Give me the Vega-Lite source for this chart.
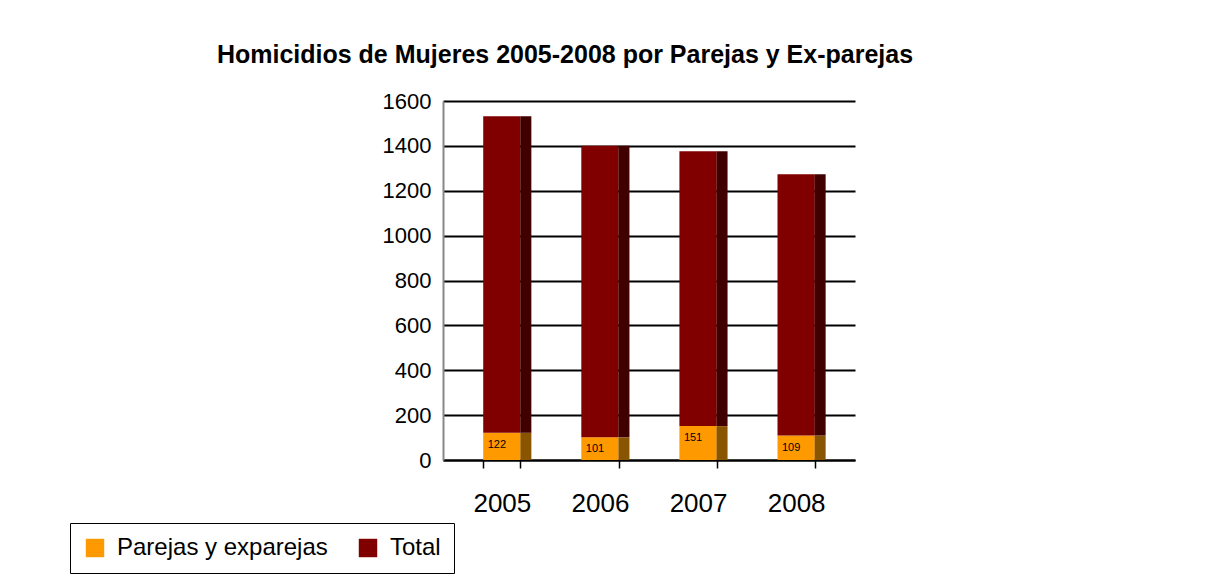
{
  "$schema": "https://vega.github.io/schema/vega-lite/v6.json",
  "width": 412,
  "height": 359,
  "autosize": {"type": "none"},
  "padding": {"left": 443, "top": 101, "right": 351, "bottom": 115},
  "background": "white",
  "title": {
    "text": "Homicidios de Mujeres 2005-2008 por Parejas y Ex-parejas",
    "font": "Liberation Sans",
    "fontSize": 25,
    "fontWeight": "bold",
    "color": "black",
    "anchor": "middle",
    "frame": "group",
    "dx": -84,
    "offset": 22
  },
  "data": {
    "values": [
      {"year": "2005", "serie": "Parejas y exparejas", "orden": 1, "value": 122},
      {"year": "2005", "serie": "Total", "orden": 2, "value": 1410},
      {"year": "2006", "serie": "Parejas y exparejas", "orden": 1, "value": 101},
      {"year": "2006", "serie": "Total", "orden": 2, "value": 1300},
      {"year": "2007", "serie": "Parejas y exparejas", "orden": 1, "value": 151},
      {"year": "2007", "serie": "Total", "orden": 2, "value": 1225},
      {"year": "2008", "serie": "Parejas y exparejas", "orden": 1, "value": 109},
      {"year": "2008", "serie": "Total", "orden": 2, "value": 1165}
    ]
  },
  "layer": [
    {
      "mark": {"type": "bar"},
      "encoding": {
        "x": {
          "field": "year",
          "type": "ordinal",
          "title": null,
          "scale": {"paddingInner": 0.62, "paddingOuter": 0.41},
          "axis": {
            "labelFont": "Liberation Sans",
            "labelFontSize": 26,
            "labelColor": "black",
            "labelAngle": 0,
            "labelPadding": 22,
            "domainColor": "black",
            "domainWidth": 2,
            "tickColor": "black",
            "tickWidth": 1.5,
            "tickSize": 8,
            "tickBand": "extent"
          }
        },
        "y": {
          "field": "value",
          "type": "quantitative",
          "title": null,
          "scale": {"domain": [0, 1600], "nice": false},
          "axis": {
            "values": [0, 200, 400, 600, 800, 1000, 1200, 1400, 1600],
            "format": "d",
            "labelFont": "Liberation Sans",
            "labelFontSize": 22,
            "labelColor": "black",
            "labelPadding": 12,
            "ticks": false,
            "domainColor": "#888888",
            "domainWidth": 2,
            "grid": true,
            "gridColor": "black",
            "gridWidth": 1.8
          }
        },
        "color": {
          "field": "serie",
          "type": "nominal",
          "scale": {"domain": ["Parejas y exparejas", "Total"], "range": ["#ff9900", "#800000"]},
          "legend": {
            "title": null,
            "orient": "none",
            "legendX": -373,
            "legendY": 422,
            "direction": "horizontal",
            "strokeColor": "black",
            "fillColor": "white",
            "padding": 13,
            "labelFont": "Liberation Sans",
            "labelFontSize": 24,
            "labelColor": "black",
            "labelLimit": 0,
            "symbolType": "square",
            "symbolSize": 340,
            "symbolStrokeWidth": 0,
            "columnPadding": 28,
            "labelOffset": 10
          }
        },
        "order": {"field": "orden", "type": "quantitative"}
      }
    },
    {
      "mark": {"type": "bar", "width": 11, "xOffset": 24},
      "encoding": {
        "x": {"field": "year", "type": "ordinal"},
        "y": {"field": "value", "type": "quantitative"},
        "fill": {
          "field": "serie",
          "type": "nominal",
          "scale": {"domain": ["Parejas y exparejas", "Total"], "range": ["#8a5500", "#400000"]},
          "legend": null
        },
        "order": {"field": "orden", "type": "quantitative"}
      }
    },
    {
      "transform": [{"filter": {"field": "serie", "equal": "Parejas y exparejas"}}],
      "mark": {"type": "text", "font": "Liberation Sans", "fontSize": 11, "color": "black", "baseline": "top", "dy": 6, "dx": -5},
      "encoding": {
        "x": {"field": "year", "type": "ordinal"},
        "y": {"field": "value", "type": "quantitative"},
        "text": {"field": "value", "type": "quantitative"}
      }
    }
  ],
  "config": {"view": {"stroke": null}}
}
